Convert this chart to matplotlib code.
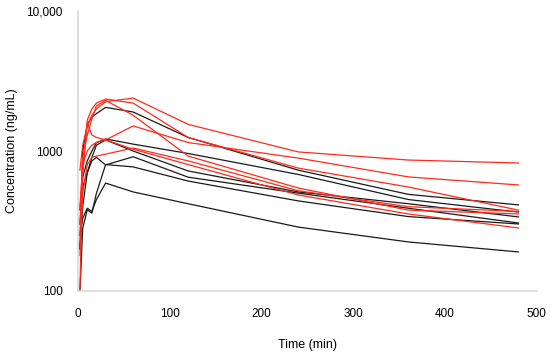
import matplotlib.pyplot as plt
from matplotlib.ticker import FixedLocator, FixedFormatter

plt.rcParams['font.family'] = ['Liberation Sans', 'DejaVu Sans']

# sampling times (min)
times = [2, 5, 10, 15, 20, 30, 60, 120, 240, 360, 480]

# black subjects (ng/mL)
black_1 = [200, 1000, 1550, 1750, 1850, 2050, 1900, 1250, 730, 490, 412]
black_2 = [380, 650, 850, 1000, 1150, 1220, 1120, 960, 680, 450, 366]
black_3 = [300, 550, 700, 900, 1100, 1200, 1000, 720, 510, 420, 338]
black_4 = [200, 400, 700, 850, 900, 795, 910, 650, 500, 390, 306]
black_5 = [100, 280, 380, 360, 500, 800, 770, 610, 440, 340, 301]
black_6 = [250, 330, 390, 370, 450, 590, 510, 420, 286, 224, 190]

# red subjects (ng/mL)
red_1 = [730, 1100, 1500, 1800, 2000, 2250, 2390, 1550, 985, 862, 821]
red_2 = [400, 800, 1000, 1100, 1150, 1200, 1510, 1150, 890, 653, 572]
red_3 = [250, 700, 1660, 2000, 2200, 2350, 2200, 1250, 755, 553, 378]
red_4 = [300, 900, 1300, 1700, 2100, 2300, 1800, 920, 544, 378, 355]
red_5 = [100, 700, 1600, 1300, 1250, 1200, 1030, 800, 485, 355, 282]
red_6 = [180, 500, 800, 900, 920, 950, 1050, 850, 520, 400, 370]

black_series = [black_1, black_2, black_3, black_4, black_5, black_6]
red_series = [red_1, red_2, red_3, red_4, red_5, red_6]

fig = plt.figure(figsize=(5.5, 3.57), dpi=100)
ax = fig.add_axes([0.142, 0.185, 0.834, 0.784])

for s in black_series:
    ax.plot(times, s, color='#1a1a1a', lw=0.9)
for s in red_series:
    ax.plot(times, s, color='#ff2a1a', lw=0.9)

ax.set_yscale('log')
ax.set_ylim(100, 10000)
ax.set_xlim(0, 500)
ax.yaxis.set_major_locator(FixedLocator([100, 1000, 10000]))
ax.yaxis.set_major_formatter(FixedFormatter(['100', '1000', '10,000']))
ax.yaxis.set_minor_locator(FixedLocator([]))
ax.set_xticks([0, 100, 200, 300, 400, 500])

for side in ['top', 'right']:
    ax.spines[side].set_visible(False)
for side in ['left', 'bottom']:
    ax.spines[side].set_color('#d9d9d9')
    ax.spines[side].set_linewidth(1.2)

ax.tick_params(axis='both', length=0, labelsize=8.5)
ax.tick_params(axis='x', pad=12)
ax.tick_params(axis='y', pad=11)

ax.set_xlabel("Time (min)", fontsize=9, labelpad=14)
ax.set_ylabel("Concentration (ng/mL)", fontsize=9, labelpad=6)

fig.savefig("out.png", dpi=100)
